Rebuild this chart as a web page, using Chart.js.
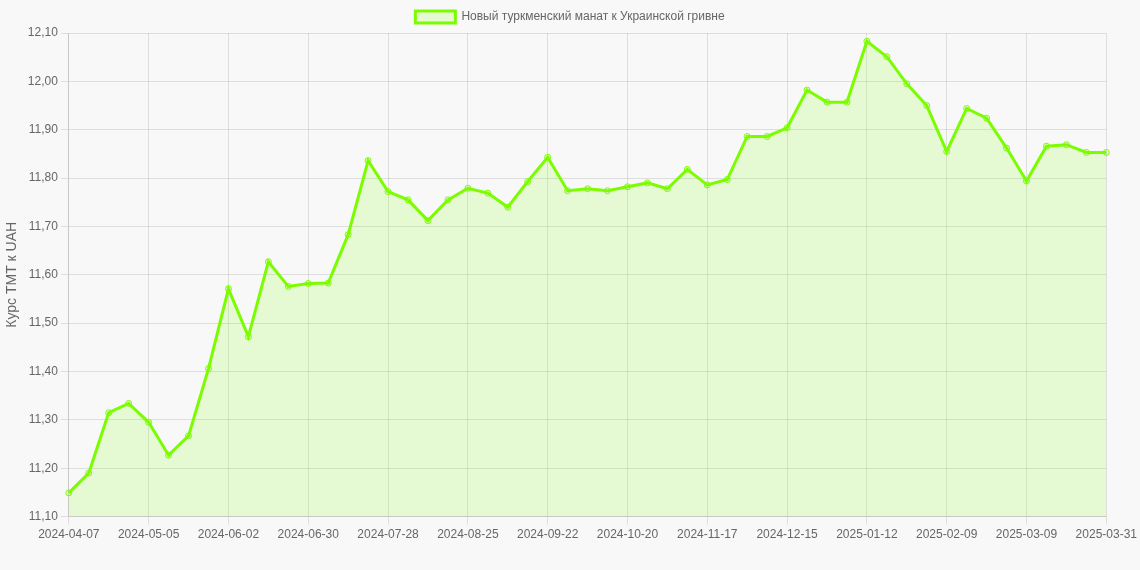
<!DOCTYPE html>
<html>
<head>
<meta charset="utf-8">
<script src="https://cdn.jsdelivr.net/npm/chart.js@4"></script>
<style>
  html, body { margin: 0; padding: 0; background: #f8f8f8; }
  #wrap { width: 1140px; height: 570px; }
</style>
</head>
<body>
<div id="wrap"><canvas id="rateChart" width="1140" height="570"></canvas></div>
<script>
const labels = [
  '2024-04-07', '2024-04-14', '2024-04-21', '2024-04-28', '2024-05-05', '2024-05-12',
  '2024-05-19', '2024-05-26', '2024-06-02', '2024-06-09', '2024-06-16', '2024-06-23',
  '2024-06-30', '2024-07-07', '2024-07-14', '2024-07-21', '2024-07-28', '2024-08-04',
  '2024-08-11', '2024-08-18', '2024-08-25', '2024-09-01', '2024-09-08', '2024-09-15',
  '2024-09-22', '2024-09-29', '2024-10-06', '2024-10-13', '2024-10-20', '2024-10-27',
  '2024-11-03', '2024-11-10', '2024-11-17', '2024-11-24', '2024-12-01', '2024-12-08',
  '2024-12-15', '2024-12-22', '2024-12-29', '2025-01-05', '2025-01-12', '2025-01-19',
  '2025-01-26', '2025-02-02', '2025-02-09', '2025-02-16', '2025-02-23', '2025-03-02',
  '2025-03-09', '2025-03-16', '2025-03-23', '2025-03-30', '2025-03-31'
];

const tmtToUah = [
  11.149, 11.190, 11.315, 11.334, 11.295, 11.227, 11.267, 11.406, 11.571, 11.472,
  11.627, 11.576, 11.582, 11.583, 11.683, 11.836, 11.772, 11.755, 11.712, 11.755,
  11.779, 11.769, 11.740, 11.793, 11.843, 11.774, 11.778, 11.774, 11.782, 11.790,
  11.778, 11.818, 11.786, 11.797, 11.886, 11.886, 11.904, 11.982, 11.957, 11.957,
  12.083, 12.051, 11.995, 11.950, 11.855, 11.944, 11.924, 11.862, 11.794, 11.866,
  11.869, 11.853, 11.853
];

const yMin = 11.10;
const yMax = 12.10;
const yStep = 0.10;
const labelEvery = 4;

const green = 'rgb(124, 252, 0)';
const greenFill = 'rgba(124, 252, 0, 0.15)';

function shown(ctx) {
  return ctx.index % labelEvery === 0;
}

let ctx = document.getElementById('rateChart').getContext('2d');

let myChart = new Chart(ctx, {
  type: 'line',
  data: {
    labels: labels,
    datasets: [{
      label: 'Новый туркменский манат к Украинской гривне',
      data: tmtToUah,
      fill: true,
      backgroundColor: greenFill,
      borderColor: green,
      borderWidth: 3,
      pointRadius: 3,
      pointBorderWidth: 1,
      pointBackgroundColor: greenFill,
      pointBorderColor: green,
      tension: 0
    }]
  },
  options: {
    responsive: false,
    animation: false,
    layout: {
      padding: { top: 1, bottom: 25 }
    },
    plugins: {
      legend: {
        labels: { color: '#666', font: { size: 12 } }
      },
      tooltip: { enabled: false }
    },
    scales: {
      x: {
        ticks: {
          autoSkip: false,
          maxRotation: 0,
          color: '#666',
          callback: function (value, index) {
            return index % labelEvery === 0 ? labels[index] : '';
          }
        },
        grid: {
          color: c => shown(c) ? 'rgba(0,0,0,0.1)' : 'rgba(0,0,0,0)',
          tickColor: c => shown(c) ? 'rgba(0,0,0,0.1)' : 'rgba(0,0,0,0)'
        }
      },
      y: {
        min: yMin,
        max: yMax,
        ticks: {
          stepSize: yStep,
          color: '#666',
          callback: v => v.toFixed(2).replace('.', ',')
        },
        title: {
          display: true,
          text: 'Курс ТМТ к UAH',
          color: '#666',
          font: { size: 14 }
        }
      }
    }
  }
});
</script>
</body>
</html>
